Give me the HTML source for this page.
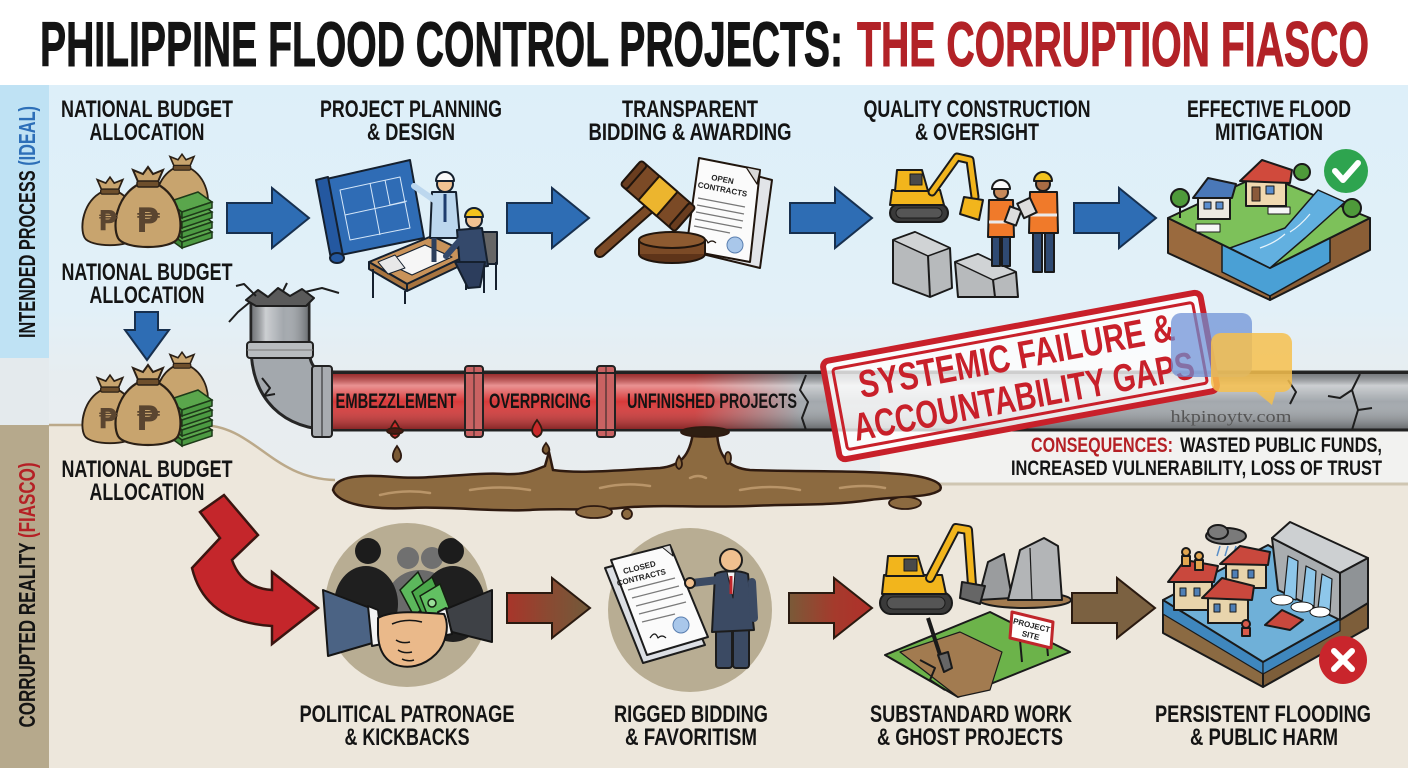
<!DOCTYPE html>
<html><head><meta charset="utf-8">
<style>
html,body{margin:0;padding:0;background:#fff;overflow:hidden;}
svg{display:block}
.t{font-family:"Liberation Sans Narrow","Liberation Sans",sans-serif;font-weight:bold;fill:#141414;}
</style></head><body>
<svg width="1408" height="768" viewBox="0 0 1408 768" xmlns="http://www.w3.org/2000/svg">
<defs>
 <linearGradient id="bg" x1="0" y1="85" x2="0" y2="490" gradientUnits="userSpaceOnUse">
  <stop offset="0" stop-color="#ddeff9"/><stop offset="0.55" stop-color="#e2f0f8"/><stop offset="0.72" stop-color="#e7edf0"/><stop offset="1" stop-color="#e9edef"/>
 </linearGradient>
 <linearGradient id="redH" x1="322" y1="0" x2="800" y2="0" gradientUnits="userSpaceOnUse">
  <stop offset="0" stop-color="#d83a3a"/><stop offset="0.78" stop-color="#d83a3a"/><stop offset="1" stop-color="#d83a3a" stop-opacity="0"/>
 </linearGradient>
 <linearGradient id="shadeH" x1="0" y1="373" x2="0" y2="430" gradientUnits="userSpaceOnUse">
  <stop offset="0" stop-color="#000" stop-opacity="0.3"/><stop offset="0.22" stop-color="#fff" stop-opacity="0.45"/><stop offset="0.5" stop-color="#fff" stop-opacity="0"/><stop offset="1" stop-color="#000" stop-opacity="0.4"/>
 </linearGradient>
 <linearGradient id="shadeV" x1="251" y1="0" x2="310" y2="0" gradientUnits="userSpaceOnUse">
  <stop offset="0" stop-color="#000" stop-opacity="0.3"/><stop offset="0.25" stop-color="#fff" stop-opacity="0.45"/><stop offset="0.55" stop-color="#fff" stop-opacity="0"/><stop offset="1" stop-color="#000" stop-opacity="0.4"/>
 </linearGradient>
 <linearGradient id="ba1" x1="507" y1="0" x2="590" y2="0" gradientUnits="userSpaceOnUse">
  <stop offset="0" stop-color="#a8352a"/><stop offset="0.5" stop-color="#8a4a32"/><stop offset="1" stop-color="#725a3a"/>
 </linearGradient>
 <linearGradient id="ba2" x1="789" y1="0" x2="872" y2="0" gradientUnits="userSpaceOnUse">
  <stop offset="0" stop-color="#7a5a38"/><stop offset="0.55" stop-color="#a53a2c"/><stop offset="1" stop-color="#b0302a"/>
 </linearGradient>
 <g id="bag">
  <path d="M-9,16 C-32,28 -36,58 -30,70 C-24,82 24,82 30,70 C36,58 32,28 9,16 Z" fill="#c8a46e" stroke="#2b2016" stroke-width="2.2"/>
  <path d="M-9,16 L-15,2 L-5,6 L0,-1 L5,6 L15,2 L9,16 Z" fill="#c8a46e" stroke="#2b2016" stroke-width="2"/>
  <rect x="-11" y="13" width="22" height="6" rx="2" fill="#6e4f2c" stroke="#2b2016" stroke-width="1.5"/>
 </g>
 <g id="cash">
  <polygon points="0,10 30,0 44,10 14,20" fill="#5aa64c" stroke="#1d3a18" stroke-width="1.5"/>
  <polygon points="0,10 14,20 14,26 0,16" fill="#3f8a38" stroke="#1d3a18" stroke-width="1.5"/>
  <polygon points="14,20 44,10 44,16 14,26" fill="#4c9a42" stroke="#1d3a18" stroke-width="1.5"/>
 </g>
</defs>

<!-- backgrounds -->
<rect width="1408" height="768" fill="#ffffff"/>
<rect x="0" y="85" width="1408" height="420" fill="url(#bg)"/>
<rect x="880" y="431" width="528" height="52" fill="#f2f2f0"/>
<path d="M49,425 L200,425 C255,425 270,478 335,480 L900,483 L1408,483 L1408,768 L49,768 Z" fill="#ede7dc"/>
<path d="M49,425 L200,425 C255,425 270,478 335,480" fill="none" stroke="#bba98a" stroke-width="2.5"/>
<line x1="900" y1="484" x2="1408" y2="484" stroke="#cfc6b2" stroke-width="3"/>

<!-- sidebars -->
<rect x="0" y="85" width="49" height="273" fill="#bfe2f4"/>
<rect x="0" y="358" width="49" height="67" fill="#e4eaed"/>
<rect x="0" y="425" width="49" height="343" fill="#b6a98c"/>
<text class="t" transform="translate(35,222) rotate(-90)" text-anchor="middle" font-size="23" textLength="232" lengthAdjust="spacingAndGlyphs" style="font-family:'Liberation Sans',sans-serif">INTENDED PROCESS <tspan fill="#2d6fb8">(IDEAL)</tspan></text>
<text class="t" transform="translate(35,595) rotate(-90)" text-anchor="middle" font-size="23" textLength="265" lengthAdjust="spacingAndGlyphs" style="font-family:'Liberation Sans',sans-serif">CORRUPTED REALITY <tspan fill="#b52025">(FIASCO)</tspan></text>

<!-- title -->
<text class="t" x="40" y="66" font-size="63" textLength="803" lengthAdjust="spacingAndGlyphs" stroke="#141414" stroke-width="1">PHILIPPINE FLOOD CONTROL PROJECTS:</text>
<text class="t" x="857" y="66" font-size="63" textLength="512" lengthAdjust="spacingAndGlyphs" fill="#b22227" style="fill:#b22227" stroke="#b22227" stroke-width="1">THE CORRUPTION FIASCO</text>

<!-- labels -->
<g class="t" font-size="24" text-anchor="middle">
 <text class="t" x="147" y="117" textLength="172" lengthAdjust="spacingAndGlyphs">NATIONAL BUDGET</text>
 <text class="t" x="147" y="140" textLength="115" lengthAdjust="spacingAndGlyphs">ALLOCATION</text>
 <text class="t" x="411" y="117" textLength="182" lengthAdjust="spacingAndGlyphs">PROJECT PLANNING</text>
 <text class="t" x="411" y="140" textLength="88" lengthAdjust="spacingAndGlyphs">&amp; DESIGN</text>
 <text class="t" x="690" y="117" textLength="136" lengthAdjust="spacingAndGlyphs">TRANSPARENT</text>
 <text class="t" x="690" y="140" textLength="203" lengthAdjust="spacingAndGlyphs">BIDDING &amp; AWARDING</text>
 <text class="t" x="977" y="117" textLength="227" lengthAdjust="spacingAndGlyphs">QUALITY CONSTRUCTION</text>
 <text class="t" x="977" y="140" textLength="124" lengthAdjust="spacingAndGlyphs">&amp; OVERSIGHT</text>
 <text class="t" x="1269" y="117" textLength="164" lengthAdjust="spacingAndGlyphs">EFFECTIVE FLOOD</text>
 <text class="t" x="1269" y="140" textLength="108" lengthAdjust="spacingAndGlyphs">MITIGATION</text>
 <text class="t" x="147" y="280" textLength="171" lengthAdjust="spacingAndGlyphs">NATIONAL BUDGET</text>
 <text class="t" x="147" y="303" textLength="115" lengthAdjust="spacingAndGlyphs">ALLOCATION</text>
 <text class="t" x="147" y="477" textLength="171" lengthAdjust="spacingAndGlyphs">NATIONAL BUDGET</text>
 <text class="t" x="147" y="500" textLength="115" lengthAdjust="spacingAndGlyphs">ALLOCATION</text>
 <text class="t" x="407" y="722" textLength="215" lengthAdjust="spacingAndGlyphs">POLITICAL PATRONAGE</text>
 <text class="t" x="407" y="745" textLength="125" lengthAdjust="spacingAndGlyphs">&amp; KICKBACKS</text>
 <text class="t" x="691" y="722" textLength="154" lengthAdjust="spacingAndGlyphs">RIGGED BIDDING</text>
 <text class="t" x="691" y="745" textLength="132" lengthAdjust="spacingAndGlyphs">&amp; FAVORITISM</text>
 <text class="t" x="971" y="722" textLength="202" lengthAdjust="spacingAndGlyphs">SUBSTANDARD WORK</text>
 <text class="t" x="970" y="745" textLength="186" lengthAdjust="spacingAndGlyphs">&amp; GHOST PROJECTS</text>
 <text class="t" x="1263" y="722" textLength="216" lengthAdjust="spacingAndGlyphs">PERSISTENT FLOODING</text>
 <text class="t" x="1264" y="745" textLength="148" lengthAdjust="spacingAndGlyphs">&amp; PUBLIC HARM</text>
</g>

<!-- money bags top -->
<g>
 <use href="#bag" transform="translate(182,155) scale(0.8)"/>
 <use href="#bag" transform="translate(110,178) scale(0.85)"/>
 <use href="#cash" transform="translate(168,222)"/>
 <use href="#cash" transform="translate(168,212)"/>
 <use href="#cash" transform="translate(168,202)"/>
 <use href="#cash" transform="translate(168,192)"/>
 <use href="#bag" transform="translate(148,168)"/>
 <text x="108" y="230" text-anchor="middle" font-family="DejaVu Sans,sans-serif" font-weight="bold" font-size="28" fill="#5a4530">₱</text>
 <text x="148" y="232" text-anchor="middle" font-family="DejaVu Sans,sans-serif" font-weight="bold" font-size="34" fill="#5a4530">₱</text>
</g>
<!-- money bags second -->
<g>
 <use href="#bag" transform="translate(182,353) scale(0.8)"/>
 <use href="#bag" transform="translate(110,376) scale(0.85)"/>
 <use href="#cash" transform="translate(168,420)"/>
 <use href="#cash" transform="translate(168,410)"/>
 <use href="#cash" transform="translate(168,400)"/>
 <use href="#cash" transform="translate(168,390)"/>
 <use href="#bag" transform="translate(148,366)"/>
 <text x="108" y="428" text-anchor="middle" font-family="DejaVu Sans,sans-serif" font-weight="bold" font-size="28" fill="#5a4530">₱</text>
 <text x="148" y="430" text-anchor="middle" font-family="DejaVu Sans,sans-serif" font-weight="bold" font-size="34" fill="#5a4530">₱</text>
</g>

<!-- blue arrows -->
<g fill="#2e6db4" stroke="#17304f" stroke-width="2" stroke-linejoin="miter">
 <path d="M227,203 L272,203 L272,188 L309,218 L272,248 L272,233 L227,233 Z"/>
 <path d="M507,203 L552,203 L552,188 L589,218 L552,248 L552,233 L507,233 Z"/>
 <path d="M790,203 L835,203 L835,188 L872,218 L835,248 L835,233 L790,233 Z"/>
 <path d="M1074,203 L1119,203 L1119,188 L1156,218 L1119,248 L1119,233 L1074,233 Z"/>
 <path d="M135,312 L158,312 L158,330 L169,330 L147,360 L125,330 L135,330 Z"/>
</g>

<!-- blueprint scene -->
<g stroke="#15202e" stroke-width="2" stroke-linejoin="round">
 <polygon points="322,180 410,160 424,238 336,256" fill="#2f6cb5"/>
 <g stroke="#d4e6f8" stroke-width="1" fill="none">
  <polygon points="340,190 400,177 410,228 350,240"/>
  <line x1="370" y1="183" x2="380" y2="235"/><line x1="345" y1="215" x2="405" y2="202"/>
  <polyline points="385,180 390,205 407,201"/>
 </g>
 <polygon points="316,180 328,177 343,256 331,259" fill="#2458a0"/>
 <ellipse cx="337" cy="258" rx="7" ry="5" fill="#2458a0"/>
 <polygon points="369,262 432,236 470,254 407,284" fill="#c9935a"/>
 <polygon points="369,262 407,284 407,291 369,269" fill="#a8743f"/>
 <polygon points="407,284 470,254 470,261 407,291" fill="#a8743f"/>
 <line x1="373" y1="269" x2="373" y2="298"/><line x1="405" y1="291" x2="405" y2="304"/><line x1="466" y1="260" x2="466" y2="290"/>
 <polygon points="385,262 425,245 452,257 412,275" fill="#f6f6f6" stroke-width="1.2"/>
 <polygon points="378,262 395,255 405,268 388,274" fill="#e8e8e8" stroke-width="1"/>
 <polygon points="432,192 456,192 460,238 430,238" fill="#bcd7ee"/>
 <line x1="445" y1="194" x2="445" y2="222" stroke="#1e3c6e" stroke-width="3"/>
 <line x1="434" y1="200" x2="414" y2="186" stroke="#bcd7ee" stroke-width="6" stroke-linecap="round"/>
 <line x1="434" y1="238" x2="434" y2="262" stroke="#2c3e5c" stroke-width="5"/>
 <circle cx="445" cy="184" r="8" fill="#f0c292"/>
 <path d="M436,181 A9,9 0 0 1 454,181 Z" fill="#fafafa"/>
 <rect x="482" y="232" width="15" height="32" fill="#666"/>
 <line x1="484" y1="264" x2="484" y2="293"/><line x1="496" y1="262" x2="496" y2="290"/>
 <polygon points="457,230 482,228 488,266 460,269" fill="#34496b"/>
 <polygon points="455,262 485,262 480,287 468,288" fill="#2c3d5c"/>
 <line x1="460" y1="240" x2="446" y2="256" stroke="#34496b" stroke-width="6" stroke-linecap="round"/>
 <circle cx="474" cy="220" r="8" fill="#f0c292"/>
 <path d="M465,217 A9,9 0 0 1 483,217 Z" fill="#f2c21e"/>
</g>

<!-- gavel + open contracts -->
<g stroke="#20150d" stroke-width="2" stroke-linejoin="round">
 <polygon points="707,163 772,180 760,268 694,252" fill="#e2e4e8"/>
 <polygon points="699,158 760,170 750,262 686,250" fill="#fbfbfb"/>
 <polygon points="746,167 760,170 757,184" fill="#d8d8d8" stroke-width="1.2"/>
 <g stroke="#777" stroke-width="1.3">
  <line x1="698" y1="198" x2="745" y2="207"/><line x1="697" y1="205" x2="744" y2="214"/><line x1="696" y1="212" x2="743" y2="221"/><line x1="695" y1="219" x2="742" y2="228"/><line x1="694" y1="226" x2="730" y2="233"/>
 </g>
 <text x="722" y="182" transform="rotate(11 722 182)" text-anchor="middle" font-family="Liberation Sans,sans-serif" font-weight="bold" font-size="8" fill="#222" stroke="none">OPEN</text>
 <text x="722" y="192" transform="rotate(11 722 192)" text-anchor="middle" font-family="Liberation Sans,sans-serif" font-weight="bold" font-size="8" fill="#222" stroke="none">CONTRACTS</text>
 <circle cx="735" cy="245" r="8" fill="#a9c7ea" stroke="#5a7fb0" stroke-width="1"/>
 <path d="M700,243 q5,-8 8,0 q4,-4 8,0" fill="none" stroke-width="1.2"/>
 <ellipse cx="672" cy="254" rx="33" ry="9" fill="#5e3419"/>
 <rect x="639" y="240" width="66" height="14" fill="#7b4a26" stroke="none"/>
 <line x1="639" y1="240" x2="639" y2="254"/><line x1="705" y1="240" x2="705" y2="254"/>
 <ellipse cx="672" cy="240" rx="33" ry="8" fill="#8d5a30"/>
 <line x1="600" y1="252" x2="652" y2="206" stroke="#20150d" stroke-width="12" stroke-linecap="round"/>
 <line x1="600" y1="252" x2="652" y2="206" stroke="#7b4a26" stroke-width="8" stroke-linecap="round"/>
 <g transform="translate(658,196) rotate(41)">
  <rect x="-36" y="-16" width="72" height="32" rx="6" fill="#7b4a26"/>
  <rect x="-12" y="-16" width="24" height="32" fill="#ecb52e"/>
  <rect x="-36" y="-16" width="8" height="32" rx="3" fill="#6a3d1f"/>
  <rect x="28" y="-16" width="8" height="32" rx="3" fill="#6a3d1f"/>
 </g>
</g>

<!-- excavator top + workers + barriers -->
<g stroke="#1a1a1a" stroke-width="2" stroke-linejoin="round">
 <rect x="890" y="204" width="58" height="18" rx="9" fill="#3a3a3a"/>
 <rect x="896" y="208" width="46" height="10" rx="5" fill="#555" stroke-width="1"/>
 <polygon points="892,190 940,190 944,205 890,205" fill="#f2b51c"/>
 <polygon points="897,170 922,170 928,191 895,191" fill="#f2b51c"/>
 <rect x="910" y="174" width="12" height="11" fill="#4a4a4a" stroke-width="1"/>
 <path d="M932,192 L957,157 L970,160 L975,197" fill="none" stroke="#1a1a1a" stroke-width="9" stroke-linecap="round"/>
 <path d="M932,192 L957,157 L970,160 L975,197" fill="none" stroke="#f2b51c" stroke-width="5" stroke-linecap="round"/>
 <polygon points="964,197 983,200 979,220 960,214" fill="#f2b51c"/>
 <polygon points="893,240 915,232 950,248 952,288 930,297 893,283" fill="#b7babc"/>
 <polygon points="893,240 915,232 950,248 928,256" fill="#d0d3d5" stroke-width="1.5"/>
 <line x1="928" y1="256" x2="930" y2="297"/>
 <polygon points="955,262 978,254 1016,272 1018,297 958,297" fill="#b7babc"/>
 <polygon points="955,262 978,254 1016,272 993,280" fill="#d0d3d5" stroke-width="1.5"/>
 <line x1="993" y1="280" x2="995" y2="297"/>
 <rect x="992" y="234" width="8" height="32" fill="#2f4a72"/><rect x="1002" y="234" width="8" height="32" fill="#2f4a72"/>
 <polygon points="989,200 1013,200 1014,237 988,237" fill="#f07a2a"/>
 <line x1="989" y1="222" x2="1013" y2="222" stroke="#eaeaea" stroke-width="3"/>
 <rect x="1007" y="208" width="12" height="16" fill="#ddd" transform="rotate(20 1013 216)"/>
 <circle cx="1001" cy="192" r="7" fill="#c88a5a"/>
 <path d="M992,189 A9,9 0 0 1 1010,189 Z" fill="#fafafa"/>
 <rect x="1033" y="230" width="9" height="42" fill="#2f4a72"/><rect x="1045" y="230" width="9" height="42" fill="#2f4a72"/>
 <polygon points="1030,192 1057,192 1058,233 1029,233" fill="#f07a2a"/>
 <line x1="1030" y1="215" x2="1057" y2="215" stroke="#eaeaea" stroke-width="3"/>
 <rect x="1020" y="200" width="14" height="16" fill="#ddd" transform="rotate(-25 1027 208)"/>
 <circle cx="1043" cy="184" r="7" fill="#a86c44"/>
 <path d="M1034,181 A9,9 0 0 1 1052,181 Z" fill="#f2c21e"/>
</g>

<!-- island -->
<g stroke="#1a1a1a" stroke-width="2" stroke-linejoin="round">
 <polygon points="1168,218 1270,268 1270,300 1168,253" fill="#9a6a3e"/>
 <polygon points="1270,268 1370,218 1370,250 1270,300" fill="#8a5e36"/>
 <polygon points="1222,244 1270,268 1330,238 1330,262 1270,296 1222,272" fill="#4aa0d5" stroke-width="1.5"/>
 <polygon points="1168,218 1262,174 1370,218 1270,268" fill="#7dc15a"/>
 <polygon points="1318,190 1345,202 1305,238 1270,268 1230,248 1285,228" fill="#62b0e0" stroke-width="1.5"/>
 <g stroke="#e8f4fb" stroke-width="1.2" fill="none"><path d="M1260,248 q15,-5 25,-14"/><path d="M1290,232 q10,-6 20,-18"/></g>
 <circle cx="1180" cy="198" r="9" fill="#4e9a3a"/><line x1="1180" y1="207" x2="1180" y2="218"/>
 <circle cx="1302" cy="172" r="8" fill="#4e9a3a"/>
 <circle cx="1352" cy="208" r="9" fill="#4e9a3a"/>
 <rect x="1198" y="195" width="32" height="24" fill="#ece9e2"/>
 <polygon points="1193,198 1208,178 1236,184 1232,198" fill="#4a78b8"/>
 <rect x="1204" y="202" width="7" height="7" fill="#5b8fd0" stroke-width="1"/><rect x="1216" y="202" width="7" height="7" fill="#5b8fd0" stroke-width="1"/>
 <rect x="1246" y="178" width="40" height="28" fill="#f0d9b0"/>
 <polygon points="1240,181 1262,160 1292,170 1290,183" fill="#d04a3c"/>
 <rect x="1252" y="187" width="8" height="14" fill="#8a5a3a" stroke-width="1"/>
 <rect x="1266" y="186" width="8" height="8" fill="#5b8fd0" stroke-width="1"/>
 <g stroke-width="1" fill="#f6f6f6"><rect x="1196" y="224" width="24" height="8"/><rect x="1268" y="207" width="22" height="7"/></g>
 <circle cx="1346" cy="171" r="22" fill="#2ea44f" stroke="none"/>
 <polyline points="1335,171 1343,180 1358,163" fill="none" stroke="#fff" stroke-width="6" stroke-linecap="round"/>
</g>

<!-- PIPE -->
<path d="M280,296 L280,346 Q280,401 335,401 L1412,401" fill="none" stroke="#262626" stroke-width="61"/>
<path d="M280,296 L280,346 Q280,401 335,401 L1412,401" fill="none" stroke="#a3a8ad" stroke-width="55"/>
<rect x="253" y="296" width="54" height="50" fill="url(#shadeV)"/>
<rect x="322" y="374" width="478" height="55" fill="url(#redH)"/>
<rect x="320" y="374" width="1092" height="55" fill="url(#shadeH)"/>
<g stroke="#1e1e1e" stroke-width="2" fill="none" stroke-linejoin="round">
 <polygon points="246,300 258,290 268,297 278,288 290,296 302,289 314,298 306,306 256,306" fill="#5a5a5a"/>
 <polyline points="256,296 244,284 236,286"/><polyline points="250,302 238,312 229,322"/>
 <polyline points="283,291 287,283"/><polyline points="305,292 322,288 339,293"/>
 <polyline points="262,378 270,388 264,396 275,394"/>
 <polyline points="806,375 800,390 808,402 802,418 806,430"/>
 <polyline points="1360,374 1352,390 1340,398 1328,396"/><polyline points="1352,390 1358,410 1352,430"/><polyline points="1358,410 1372,408"/>
 <polyline points="1288,380 1296,392 1290,404"/>
</g>
<rect x="247" y="342" width="66" height="16" rx="3" fill="#b8bcbf" stroke="#222" stroke-width="2"/>
<line x1="247" y1="350" x2="313" y2="350" stroke="#777" stroke-width="1"/>
<g stroke="#222" stroke-width="2">
 <rect x="312" y="366" width="20" height="71" rx="3" fill="#a8acb0"/>
 <rect x="465" y="366" width="18" height="71" rx="3" fill="#c96262"/>
 <rect x="597" y="366" width="18" height="71" rx="3" fill="#c96262"/>
 <line x1="322" y1="366" x2="322" y2="437" stroke-width="1"/><line x1="474" y1="366" x2="474" y2="437" stroke-width="1"/><line x1="606" y1="366" x2="606" y2="437" stroke-width="1"/>
</g>
<line x1="332" y1="373" x2="1408" y2="373" stroke="#222" stroke-width="2"/>
<line x1="332" y1="430" x2="1408" y2="430" stroke="#222" stroke-width="2"/>
<g class="t" font-size="21" text-anchor="middle">
 <text class="t" x="396" y="408" textLength="121" lengthAdjust="spacingAndGlyphs">EMBEZZLEMENT</text>
 <text class="t" x="540" y="408" textLength="102" lengthAdjust="spacingAndGlyphs">OVERPRICING</text>
 <text class="t" x="712" y="408" textLength="170" lengthAdjust="spacingAndGlyphs">UNFINISHED PROJECTS</text>
</g>

<!-- drops & puddle -->
<g stroke="#2e1a10" stroke-width="1.8">
 <path d="M395,421 C401,429 402,435 395,438 C388,435 389,429 395,421 Z" fill="#c92a2a"/>
 <path d="M537,420 C543,428 544,434 537,437 C530,434 531,428 537,420 Z" fill="#c92a2a"/>
 <path d="M397,446 C402,453 403,459 397,462 C391,459 392,453 397,446 Z" fill="#7a5a34"/>
 <path d="M546,443 C550,448 551,452 546,454 C541,452 542,448 546,443 Z" fill="#7a5a34"/>
 <ellipse cx="395" cy="431" rx="8" ry="3" fill="#4a1a12"/>
 <path d="M333,490 C336,476 360,474 395,477 C430,480 470,472 505,474 C525,475 535,470 545,466 L549,452 L553,470 C580,474 620,470 660,468 C680,466 690,456 693,432 L717,432 C718,456 728,468 750,470 C800,472 850,470 900,474 C925,476 945,482 940,490 C930,498 900,496 870,500 C830,506 790,504 750,506 C700,508 660,504 620,508 C590,511 560,508 530,510 C490,512 450,506 410,508 C370,510 338,504 333,490 Z" fill="#8c6a40" stroke-width="2.5"/>
 <ellipse cx="705" cy="432" rx="24" ry="5" fill="#2e1e12"/>
 <ellipse cx="594" cy="512" rx="18" ry="6" fill="#8c6a40"/>
 <circle cx="627" cy="514" r="5" fill="#8c6a40"/>
 <ellipse cx="905" cy="503" rx="16" ry="6" fill="#8c6a40"/>
 <path d="M679,456 C683,462 683,467 679,469 C675,467 675,462 679,456 Z" fill="#8c6a40"/>
 <ellipse cx="728" cy="458" rx="3" ry="6" fill="#8c6a40"/>
 <g stroke="#b99569" stroke-width="2.5" fill="none" stroke-linecap="round">
  <path d="M380,495 q25,-6 50,-2"/><path d="M470,490 q30,-5 60,0"/><path d="M600,488 q25,-6 50,-2"/><path d="M740,490 q30,-6 60,0"/><path d="M840,488 q25,-4 45,0"/><path d="M690,478 q8,-4 16,0"/>
 </g>
</g>

<!-- stamp -->
<g transform="translate(1020,376) rotate(-10.5)">
 <rect x="-192" y="-50" width="384" height="100" rx="6" fill="#ffffff" fill-opacity="0.78" stroke="#c8202a" stroke-width="6"/>
 <rect x="-183" y="-41" width="366" height="82" rx="3" fill="none" stroke="#c8202a" stroke-width="3"/>
 <text class="t" x="0" y="-7" text-anchor="middle" font-size="39" textLength="320" lengthAdjust="spacingAndGlyphs" style="fill:#c8202a">SYSTEMIC FAILURE &amp;</text>
 <text class="t" x="0" y="34" text-anchor="middle" font-size="39" textLength="346" lengthAdjust="spacingAndGlyphs" style="fill:#c8202a">ACCOUNTABILITY GAPS</text>
</g>
<rect x="1171" y="313" width="81" height="64" rx="10" fill="#6b8fd6" fill-opacity="0.72"/>
<rect x="1211" y="333" width="81" height="59" rx="10" fill="#f6c04e" fill-opacity="0.85"/>
<polygon points="1255,391 1276,391 1272,405" fill="#f6c04e" fill-opacity="0.85"/>
<text x="1231" y="422" text-anchor="middle" font-family="Liberation Serif,serif" font-size="17" fill="#555" textLength="121" lengthAdjust="spacingAndGlyphs">hkpinoytv.com</text>

<!-- consequences -->
<text class="t" x="1031" y="452" font-size="21" textLength="142" lengthAdjust="spacingAndGlyphs" style="fill:#b52025">CONSEQUENCES:</text>
<text class="t" x="1180" y="452" font-size="21" textLength="202" lengthAdjust="spacingAndGlyphs">WASTED PUBLIC FUNDS,</text>
<text class="t" x="1011" y="475" font-size="21" textLength="371" lengthAdjust="spacingAndGlyphs">INCREASED VULNERABILITY, LOSS OF TRUST</text>

<!-- red zigzag arrow -->
<path d="M200,512 L224,495 L258,535 L232,560 Q242,588 272,590 L272,572 L318,608 L272,644 L272,626 Q205,622 192,568 L220,538 Z" fill="#c4262b" stroke="#3a1510" stroke-width="2.5" stroke-linejoin="miter"/>

<!-- bottom arrows -->
<g stroke="#2a1a10" stroke-width="2">
 <path d="M507,593 L552,593 L552,578 L590,608 L552,638 L552,623 L507,623 Z" fill="url(#ba1)"/>
 <path d="M789,593 L834,593 L834,578 L872,608 L834,638 L834,623 L789,623 Z" fill="url(#ba2)"/>
 <path d="M1072,593 L1117,593 L1117,578 L1155,608 L1117,638 L1117,623 L1072,623 Z" fill="#7b6141"/>
</g>

<!-- circle 1: patronage -->
<clipPath id="c1"><circle cx="407" cy="605" r="82"/></clipPath>
<circle cx="407" cy="605" r="82" fill="#b8ad93"/>
<g clip-path="url(#c1)">
 <circle cx="408" cy="558" r="11" fill="#707070"/><circle cx="432" cy="558" r="11" fill="#707070"/>
 <ellipse cx="420" cy="602" rx="34" ry="32" fill="#6a6a6a"/>
 <circle cx="368" cy="551" r="13" fill="#1c1c1c"/><circle cx="451" cy="551" r="13" fill="#1c1c1c"/>
 <ellipse cx="366" cy="604" rx="32" ry="38" fill="#1f1f1f"/><ellipse cx="453" cy="604" rx="32" ry="38" fill="#1f1f1f"/>
</g>
<g stroke="#142010" stroke-width="1.5">
 <polygon points="400,590 418,572 432,600 414,616" fill="#5cb85c"/>
 <polygon points="412,592 432,577 444,605 424,618" fill="#4aa84a"/>
 <polygon points="420,596 440,584 450,610 430,622" fill="#62c062"/>
 <circle cx="432" cy="603" r="4" fill="#9adf9a"/>
</g>
<g stroke="#151515" stroke-width="2" stroke-linejoin="round">
 <polygon points="323,590 370,608 376,642 328,656" fill="#4b6384"/>
 <polygon points="368,606 378,610 382,644 372,646" fill="#f2f2f2"/>
 <polygon points="492,590 492,642 452,632 444,610" fill="#3e4146"/>
 <polygon points="446,608 438,612 442,636 452,634" fill="#f2f2f2"/>
 <path d="M378,618 C392,610 420,612 444,614 C450,626 446,644 436,654 C424,666 408,670 394,664 C382,658 378,646 378,632 Z" fill="#eab98a"/>
 <path d="M392,624 q14,-6 30,-2" fill="none" stroke-width="1.5"/>
 <path d="M396,640 q6,4 14,2 M398,650 q6,4 14,2 M402,659 q6,3 12,1" fill="none" stroke-width="1.5"/>
</g>

<!-- circle 2: rigged bidding -->
<circle cx="690" cy="610" r="82" fill="#b8ad93"/>
<g stroke="#1c1c1c" stroke-width="2" stroke-linejoin="round">
 <polygon points="605,568 664,552 705,645 643,663" fill="#dcdfe4"/>
 <polygon points="611,560 670,545 708,637 647,655" fill="#fbfbfb"/>
 <polygon points="662,547 670,545 673,556" fill="#ddd" stroke-width="1"/>
 <g stroke="#7a7a7a" stroke-width="1.3">
  <line x1="628" y1="590" x2="675" y2="578"/><line x1="632" y1="598" x2="679" y2="586"/><line x1="636" y1="606" x2="683" y2="594"/><line x1="639" y1="614" x2="686" y2="602"/><line x1="642" y1="622" x2="675" y2="614"/>
 </g>
 <text x="640" y="570" transform="rotate(-14 640 570)" text-anchor="middle" font-family="Liberation Sans,sans-serif" font-weight="bold" font-size="8" fill="#222" stroke="none">CLOSED</text>
 <text x="642" y="580" transform="rotate(-14 642 580)" text-anchor="middle" font-family="Liberation Sans,sans-serif" font-weight="bold" font-size="8" fill="#222" stroke="none">CONTRACTS</text>
 <circle cx="681" cy="625" r="8" fill="#a9c7ea" stroke="#5a7fb0" stroke-width="1"/>
 <path d="M650,638 q5,-8 8,0 q4,-4 8,0" fill="none" stroke-width="1.2"/>
 <rect x="716" y="628" width="16" height="40" rx="3" fill="#3b4a63"/><rect x="733" y="628" width="16" height="40" rx="3" fill="#3b4a63"/>
 <path d="M715,574 C722,570 740,570 748,574 L754,630 L712,632 Z" fill="#3b4a63"/>
 <polygon points="727,572 735,572 733,598" fill="#f4f4f4" stroke-width="1"/>
 <line x1="731" y1="576" x2="731" y2="594" stroke="#c0262b" stroke-width="3"/>
 <path d="M718,580 L692,583" stroke="#3b4a63" stroke-width="8" stroke-linecap="round" fill="none"/>
 <circle cx="690" cy="583" r="5" fill="#f0c08f"/>
 <line x1="752" y1="582" x2="754" y2="618" stroke="#3b4a63" stroke-width="8" stroke-linecap="round"/>
 <circle cx="731" cy="560" r="11" fill="#f0c08f"/>
</g>

<!-- substandard work / ghost project -->
<g stroke="#1a1a1a" stroke-width="2" stroke-linejoin="round">
 <polygon points="885,655 990,612 1070,652 958,697" fill="#6cb34a"/>
 <polygon points="900,652 960,632 1002,652 990,690 958,697" fill="#a27b50" stroke-width="1.2"/>
 <polyline points="920,660 935,668 930,680 945,690" fill="none"/>
 <line x1="928" y1="618" x2="943" y2="664" stroke-width="4"/>
 <polygon points="938,655 948,652 952,668 944,672" fill="#666"/>
 <line x1="1020" y1="640" x2="1022" y2="662"/><line x1="1046" y1="634" x2="1048" y2="656"/>
 <polygon points="1012,612 1053,622 1051,648 1010,638" fill="#fff" stroke="#c0262b" stroke-width="3"/>
 <text x="1031" y="628" transform="rotate(14 1031 628)" text-anchor="middle" font-family="Liberation Sans,sans-serif" font-weight="bold" font-size="8" fill="#222" stroke="none">PROJECT</text>
 <text x="1030" y="638" transform="rotate(14 1030 638)" text-anchor="middle" font-family="Liberation Sans,sans-serif" font-weight="bold" font-size="8" fill="#222" stroke="none">SITE</text>
 <ellipse cx="1025" cy="600" rx="46" ry="8" fill="#a27b50"/>
 <polygon points="978,600 988,562 1004,554 1012,598" fill="#9a9c9e"/>
 <polygon points="1008,600 1020,550 1044,538 1058,546 1062,600" fill="#b3b5b7"/>
 <line x1="1030" y1="548" x2="1032" y2="600" stroke-width="1.2"/>
 <rect x="880" y="592" width="72" height="22" rx="11" fill="#3a3a3a"/>
 <rect x="887" y="597" width="58" height="12" rx="6" fill="#555" stroke-width="1"/>
 <polygon points="884,575 942,575 946,594 882,594" fill="#f2b51c"/>
 <polygon points="888,556 918,556 924,576 886,576" fill="#f2b51c"/>
 <rect x="904" y="559" width="13" height="12" fill="#4a4a4a" stroke-width="1"/>
 <path d="M930,578 L956,528 L968,530 L972,585" fill="none" stroke="#1a1a1a" stroke-width="10" stroke-linecap="round"/>
 <path d="M930,578 L956,528 L968,530 L972,585" fill="none" stroke="#f2b51c" stroke-width="6" stroke-linecap="round"/>
 <polygon points="962,582 985,586 980,604 960,598" fill="#666"/>
</g>

<!-- flood block -->
<g stroke="#1a1a1a" stroke-width="2" stroke-linejoin="round">
 <polygon points="1163,600 1263,662 1263,687 1163,633" fill="#8b6a42"/>
 <polygon points="1263,662 1368,603 1368,628 1263,687" fill="#7d5e3a"/>
 <polygon points="1163,600 1263,662 1263,674 1163,614" fill="#3f87be" stroke-width="1.2"/>
 <polygon points="1263,662 1340,619 1340,631 1263,674" fill="#3f87be" stroke-width="1.2"/>
 <polygon points="1163,600 1263,662 1368,603 1268,545" fill="#6fb0d8"/>
 <polygon points="1272,538 1340,573 1340,620 1278,590" fill="#a9adb0"/>
 <polygon points="1272,538 1290,522 1368,558 1340,573" fill="#cdd0d2"/>
 <polygon points="1340,573 1368,558 1368,603 1340,620" fill="#8f9396"/>
 <g fill="#8ec7ea" stroke-width="1.2"><polygon points="1288,556 1298,561 1296,600 1284,596"/><polygon points="1306,566 1316,571 1314,606 1302,602"/><polygon points="1322,574 1332,579 1330,612 1318,608"/></g>
 <g fill="#ffffff" stroke-width="1"><ellipse cx="1282" cy="600" rx="11" ry="5"/><ellipse cx="1302" cy="607" rx="11" ry="5"/><ellipse cx="1320" cy="612" rx="10" ry="5"/></g>
 <ellipse cx="1226" cy="536" rx="20" ry="8" fill="#7a7a7a"/><ellipse cx="1218" cy="532" rx="10" ry="7" fill="#7a7a7a"/>
 <g stroke="#5a8fc8" stroke-width="1.5"><line x1="1220" y1="546" x2="1217" y2="556"/><line x1="1228" y1="546" x2="1225" y2="556"/><line x1="1236" y1="546" x2="1233" y2="556"/></g>
 <rect x="1174" y="578" width="38" height="32" fill="#e8d4ac"/>
 <polygon points="1168,582 1185,560 1218,566 1214,582" fill="#c9483d"/>
 <rect x="1226" y="560" width="40" height="28" fill="#e8d4ac"/>
 <polygon points="1220,564 1240,546 1270,552 1268,565" fill="#c9483d"/>
 <rect x="1208" y="595" width="40" height="28" fill="#e8d4ac"/>
 <polygon points="1202,598 1222,578 1254,586 1252,600" fill="#c9483d"/>
 <g fill="#4f7fb6" stroke-width="1"><rect x="1180" y="588" width="6" height="8"/><rect x="1194" y="588" width="6" height="8"/><rect x="1232" y="570" width="6" height="8"/><rect x="1248" y="570" width="6" height="8"/><rect x="1214" y="604" width="6" height="8"/><rect x="1230" y="604" width="6" height="8"/></g>
 <circle cx="1186" cy="552" r="4" fill="#e2a650"/><rect x="1182" y="556" width="8" height="10" fill="#e2a650"/>
 <circle cx="1199" cy="556" r="4" fill="#e2a650"/><rect x="1195" y="560" width="8" height="10" fill="#e2a650"/>
 <polygon points="1265,625 1282,610 1303,620 1290,630" fill="#c9483d"/>
 <circle cx="1246" cy="624" r="4" fill="#d95a4a"/><rect x="1242" y="628" width="8" height="8" fill="#d95a4a"/>
</g>
<circle cx="1343" cy="660" r="24" fill="#c9252c"/>
<g stroke="#fff" stroke-width="6" stroke-linecap="round"><line x1="1334" y1="651" x2="1352" y2="669"/><line x1="1352" y1="651" x2="1334" y2="669"/></g>

</svg>
</body></html>
